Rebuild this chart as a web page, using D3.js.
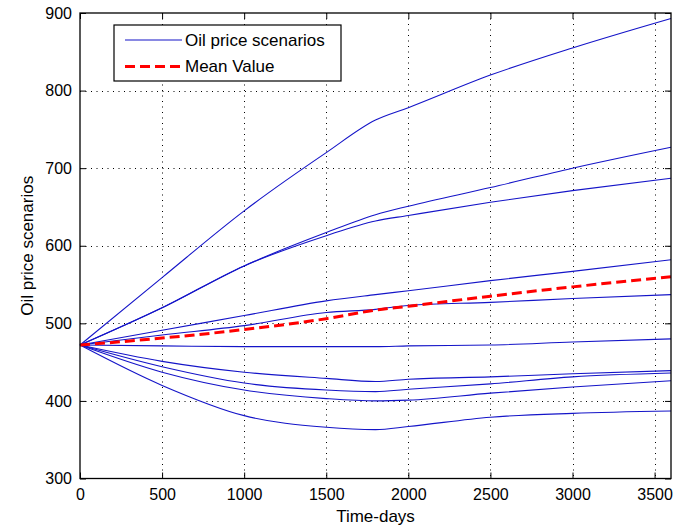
<!DOCTYPE html>
<html>
<head>
<meta charset="utf-8">
<script src="https://cdn.jsdelivr.net/npm/d3@7"></script>
<style>
  body { margin: 0; background: #fff; }
  svg { display: block; font-family: "Liberation Sans", Arial, sans-serif; }
  .grid line { stroke: #000; stroke-width: 1; stroke-dasharray: 1,4.5; }
  .tick text { font-size: 16px; fill: #000; }
</style>
</head>
<body>
<script>
// sample days
var days = [0, 500, 1000, 1500, 1800, 2000, 2500, 3000, 3600]

// oil price scenarios (top to bottom)
var scenHigh   = [472, 559, 645, 720, 762, 778, 820, 855, 893]
var scenUp1    = [472, 520, 574, 617, 640, 651, 675, 700, 727]
var scenUp2    = [472, 520, 574, 613, 632, 639, 656, 671, 687]
var scenMid1   = [472, 491, 510, 529, 537, 542, 555, 567, 582]
var scenMid2   = [472, 485, 497, 514, 518, 523, 527, 532, 537]
var scenFlat   = [472, 471, 470, 470, 470, 471, 472, 476, 480]
var scenLow1   = [472, 451, 437, 429, 425, 428, 431, 435, 439]
var scenLow2   = [472, 444, 423, 414, 412, 415, 422, 431, 436]
var scenLow3   = [472, 437, 414, 403, 400, 401, 410, 418, 426]
var scenLow4   = [472, 420, 381, 366, 363, 367, 379, 384, 387]
var meanValue  = [472, 481, 492, 506, 517, 522, 535, 547, 560]

var scenarios = [scenHigh, scenUp1, scenUp2, scenMid1, scenMid2, scenFlat,
                 scenLow1, scenLow2, scenLow3, scenLow4]

var xTicks = [0, 500, 1000, 1500, 2000, 2500, 3000, 3500]
var yTicks = [300, 400, 500, 600, 700, 800, 900]
var legendLabels = ["Oil price scenarios", "Mean Value"]

var width = 681
var height = 528
var margin = { left: 80, right: 10, top: 13, bottom: 49.5 }
var pw = width - margin.left - margin.right
var ph = height - margin.top - margin.bottom

var svg = d3.select("body").append("svg")
  .attr("width", width)
  .attr("height", height)

var x = d3.scaleLinear().domain([0, 3600]).range([0, pw])
var y = d3.scaleLinear().domain([300, 900]).range([ph, 0])

var g = svg.append("g")
  .attr("transform", "translate(" + margin.left + "," + margin.top + ")")

// dotted grid
g.append("g").attr("class", "grid")
  .selectAll("line").data(xTicks.filter(function (d) { return d > 0 }))
  .enter().append("line")
  .attr("x1", function (d) { return Math.round(x(d)) + 0.5 })
  .attr("x2", function (d) { return Math.round(x(d)) + 0.5 })
  .attr("y1", 0).attr("y2", ph)

g.append("g").attr("class", "grid")
  .selectAll("line").data(yTicks.filter(function (d) { return d > 300 && d < 900 }))
  .enter().append("line")
  .attr("y1", function (d) { return Math.round(y(d)) + 0.5 })
  .attr("y2", function (d) { return Math.round(y(d)) + 0.5 })
  .attr("x1", 0).attr("x2", pw)

var line = d3.line()
  .x(function (d, i) { return x(days[i]) })
  .y(function (d) { return y(d) })
  .curve(d3.curveMonotoneX)

g.append("g").selectAll("path.scen")
  .data(scenarios)
  .enter().append("path")
  .attr("class", "scen")
  .attr("d", line)
  .attr("fill", "none")
  .attr("stroke", "#1414c8")
  .attr("stroke-width", 1.1)

g.append("path")
  .attr("d", line(meanValue))
  .attr("fill", "none")
  .attr("stroke", "#ff0000")
  .attr("stroke-width", 3)
  .attr("stroke-dasharray", "10,5")

// axes with inward ticks on all four sides
var tickLen = 6
var bottomAxis = d3.axisBottom(x).tickValues(xTicks).tickSizeInner(-tickLen).tickSizeOuter(0).tickPadding(10).tickFormat(d3.format("d"))
var topAxis = d3.axisTop(x).tickValues(xTicks).tickSizeInner(-tickLen).tickSizeOuter(0).tickFormat("")
var leftAxis = d3.axisLeft(y).tickValues(yTicks).tickSizeInner(-tickLen).tickSizeOuter(0).tickPadding(8).tickFormat(d3.format("d"))
var rightAxis = d3.axisRight(y).tickValues(yTicks).tickSizeInner(-tickLen).tickSizeOuter(0).tickFormat("")

g.append("g").attr("transform", "translate(0," + ph + ")").call(bottomAxis)
g.append("g").call(topAxis)
g.append("g").call(leftAxis)
g.append("g").attr("transform", "translate(" + pw + ",0)").call(rightAxis)

g.selectAll(".domain").remove()
g.selectAll(".tick line").attr("stroke", "#000")

// box
g.append("rect")
  .attr("x", 0).attr("y", 0)
  .attr("width", pw).attr("height", ph)
  .attr("fill", "none")
  .attr("stroke", "#000")
  .attr("stroke-width", 1.3)

// axis labels
svg.append("text")
  .attr("x", margin.left + pw / 2)
  .attr("y", 522)
  .attr("text-anchor", "middle")
  .style("font-size", "17px")
  .text("Time-days")

svg.append("text")
  .attr("transform", "translate(33," + (margin.top + ph / 2) + ") rotate(-90)")
  .attr("text-anchor", "middle")
  .style("font-size", "17px")
  .text("Oil price scenarios")

// legend
var legend = svg.append("g").attr("transform", "translate(114,25)")
legend.append("rect")
  .attr("width", 227).attr("height", 56)
  .attr("fill", "#fff")
  .attr("stroke", "#000")
  .attr("stroke-width", 1.2)

var legendRows = legend.selectAll("g.row")
  .data(legendLabels)
  .enter().append("g")
  .attr("class", "row")
  .attr("transform", function (d, i) { return "translate(0," + (15 + i * 26.5) + ")" })

legendRows.append("line")
  .attr("x1", 11).attr("x2", 68)
  .attr("stroke", function (d, i) { return i == 0 ? "#1414c8" : "#ff0000" })
  .attr("stroke-width", function (d, i) { return i == 0 ? 1.1 : 3 })
  .attr("stroke-dasharray", function (d, i) { return i == 0 ? null : "10,5" })

legendRows.append("text")
  .attr("x", 71)
  .attr("dy", "0.35em")
  .style("font-size", "17px")
  .text(function (d) { return d })
</script>
</body>
</html>
